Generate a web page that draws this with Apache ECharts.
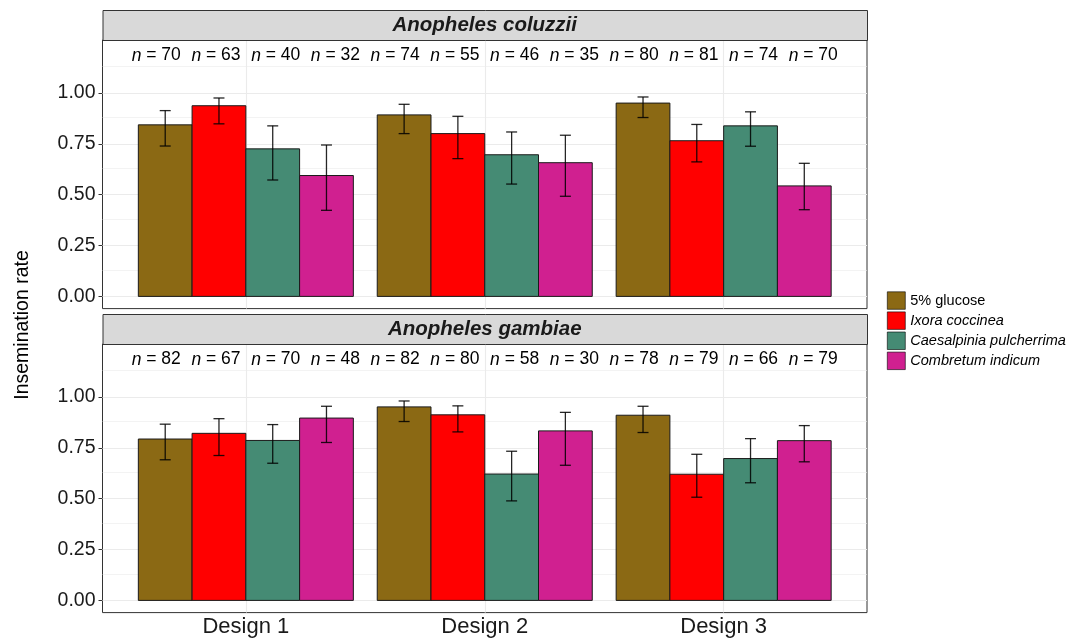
<!DOCTYPE html>
<html><head><meta charset="utf-8">
<script src="https://cdn.jsdelivr.net/npm/echarts@6/dist/echarts.min.js"></script>
<style>html,body{margin:0;padding:0;background:#fff}#c{width:1072px;height:638px}</style>
</head><body><div id="c"></div>
<script>
// ---- data ----
const designs = ['Design 1', 'Design 2', 'Design 3'];
const treatments = ['5% glucose', 'Ixora coccinea', 'Caesalpinia pulcherrima', 'Combretum indicum'];
const species = ['Anopheles coluzzii', 'Anopheles gambiae'];
const yTicks = [0, 0.25, 0.5, 0.75, 1];
const yMinor = [0.125, 0.375, 0.625, 0.875, 1.125];

// rows: treatments, columns: designs
const coluzziiRate = [[0.843, 0.892, 0.950], [0.937, 0.800, 0.765], [0.725, 0.696, 0.838], [0.594, 0.657, 0.543]];
const coluzziiLow  = [[0.739, 0.800, 0.879], [0.848, 0.677, 0.661], [0.572, 0.552, 0.738], [0.423, 0.492, 0.426]];
const coluzziiHigh = [[0.913, 0.944, 0.980], [0.975, 0.885, 0.845], [0.838, 0.808, 0.907], [0.744, 0.792, 0.654]];
const coluzziiN    = [[70, 74, 80], [63, 55, 81], [40, 46, 74], [32, 35, 70]];

const gambiaeRate = [[0.793, 0.951, 0.910], [0.821, 0.912, 0.620], [0.786, 0.621, 0.697], [0.896, 0.833, 0.785]];
const gambiaeLow  = [[0.691, 0.879, 0.825], [0.712, 0.828, 0.507], [0.674, 0.489, 0.578], [0.776, 0.664, 0.681]];
const gambiaeHigh = [[0.866, 0.980, 0.954], [0.893, 0.956, 0.718], [0.864, 0.733, 0.795], [0.954, 0.924, 0.859]];
const gambiaeN    = [[82, 82, 78], [67, 80, 79], [70, 58, 66], [48, 30, 79]];

// ---- style ----
const colors = ['#8B6914', '#FF0000', '#458B74', '#D02090'];
const FONT = '"Liberation Sans", Arial, sans-serif';
const PANEL_LEFT = 102.5, PANEL_W = 764.5, PANEL_H = 268.6;
const PANEL_TOPS = [40, 344];
const STRIP_H = 30;
const BAR_W = 0.225, LABEL_STEP = 0.25, CAP_HALF = 0.023, N_LABEL_Y = 1.183;

const panelData = [
  {rate: coluzziiRate, low: coluzziiLow, high: coluzziiHigh, n: coluzziiN},
  {rate: gambiaeRate, low: gambiaeLow, high: gambiaeHigh, n: gambiaeN}
];

const grids = PANEL_TOPS.map(t => ({
  left: PANEL_LEFT, top: t, width: PANEL_W, height: PANEL_H,
  outerBoundsMode: 'none', containLabel: false,
  show: true, borderColor: '#333333', borderWidth: 1, backgroundColor: '#ffffff'
}));

const xAxes = [0, 1].map(g => ({
  type: 'value', gridIndex: g, min: 0.4, max: 3.6,
  axisLine: {show: false}, splitLine: {show: false},
  axisTick: {show: g === 1, length: 4, lineStyle: {color: '#333333'}, customValues: [1, 2, 3]},
  axisLabel: {show: g === 1, customValues: [1, 2, 3], formatter: v => designs[Math.round(v) - 1],
    fontSize: 22, color: '#1a1a1a', margin: 3, fontFamily: FONT}
}));

const yAxes = [0, 1].map(g => ({
  type: 'value', gridIndex: g, min: -0.06, max: 1.26,
  axisLine: {show: false}, splitLine: {show: false},
  axisTick: {show: true, length: 4, lineStyle: {color: '#333333'}, customValues: yTicks},
  axisLabel: {customValues: yTicks, formatter: v => v.toFixed(2), fontSize: 19.5, color: '#1a1a1a', margin: 7, fontFamily: FONT}
}));

const series = [];
[0, 1].forEach(g => {
  // grid lines
  series.push({
    type: 'line', xAxisIndex: g, yAxisIndex: g, data: [], silent: true, z: 1,
    markLine: {
      silent: true, z: 1, symbol: ['none', 'none'], label: {show: false}, animation: false,
      lineStyle: {color: '#EBEBEB', width: 0.6, type: 'solid'},
      data: yMinor.map(v => ({yAxis: v}))
    }
  });
  series.push({
    type: 'line', xAxisIndex: g, yAxisIndex: g, data: [], silent: true, z: 1,
    markLine: {
      silent: true, z: 1, symbol: ['none', 'none'], label: {show: false}, animation: false,
      lineStyle: {color: '#EBEBEB', width: 1.1, type: 'solid'},
      data: yTicks.map(v => ({yAxis: v})).concat(designs.map((d, i) => ({xAxis: i + 1})))
    }
  });
  const P = panelData[g];
  treatments.forEach((tName, t) => {
    const data = designs.map((d, i) => [i + 1, P.rate[t][i], P.low[t][i], P.high[t][i]]);
    series.push({
      type: 'custom', name: tName, xAxisIndex: g, yAxisIndex: g, z: 10,
      itemStyle: {color: colors[t], borderColor: '#000', borderWidth: 0.6},
      data: data,
      renderItem: (params, api) => {
        const x = api.value(0), y = api.value(1), lo = api.value(2), hi = api.value(3);
        const c = x + (t - 1.5) * BAR_W;
        const tl = api.coord([c - BAR_W / 2, y]);
        const br = api.coord([c + BAR_W / 2, 0]);
        const pHi = api.coord([c, hi]), pLo = api.coord([c, lo]);
        const capL = api.coord([c - CAP_HALF, hi])[0], capR = api.coord([c + CAP_HALF, hi])[0];
        const es = {stroke: 'rgba(0,0,0,0.85)', lineWidth: 1.3};
        return {
          type: 'group', children: [
            {type: 'rect', shape: {x: tl[0], y: tl[1], width: br[0] - tl[0], height: br[1] - tl[1]},
             style: {fill: colors[t], stroke: '#1a1a1a', lineWidth: 1}},
            {type: 'line', shape: {x1: pHi[0], y1: pHi[1], x2: pLo[0], y2: pLo[1]}, style: es},
            {type: 'line', shape: {x1: capL, y1: pHi[1], x2: capR, y2: pHi[1]}, style: es},
            {type: 'line', shape: {x1: capL, y1: pLo[1], x2: capR, y2: pLo[1]}, style: es}
          ]
        };
      }
    });
  });
  // n labels
  const labelData = [];
  treatments.forEach((tName, t) => designs.forEach((d, i) => labelData.push([i + 1, P.n[t][i], t])));
  series.push({
    type: 'custom', xAxisIndex: g, yAxisIndex: g, z: 11, silent: true,
    data: labelData,
    renderItem: (params, api) => {
      const x = api.value(0), n = api.value(1), t = api.value(2);
      const p = api.coord([x + (t - 1.5) * LABEL_STEP, N_LABEL_Y]);
      return {
        type: 'text', x: p[0], y: p[1],
        style: {
          text: '{i|n} = ' + n, fontSize: 17.5, fontFamily: FONT, fill: '#000',
          align: 'center', verticalAlign: 'middle',
          rich: {i: {fontStyle: 'italic', fontSize: 17.5, fontFamily: FONT, fill: '#000'}}
        }
      };
    }
  });
});

const graphics = [];
PANEL_TOPS.forEach((t, g) => {
  graphics.push({
    type: 'rect', left: PANEL_LEFT, top: t - STRIP_H, z: 20,
    shape: {width: PANEL_W, height: STRIP_H},
    style: {fill: '#D9D9D9', stroke: '#333333', lineWidth: 1}
  });
  graphics.push({
    type: 'text', x: PANEL_LEFT + PANEL_W / 2, y: t - STRIP_H / 2 + 0.5, z: 21,
    style: {text: species[g], fontSize: 20.5, fontWeight: 'bold', fontStyle: 'italic', fontFamily: FONT,
      fill: '#1a1a1a', align: 'center', verticalAlign: 'middle'}
  });
});
graphics.push({
  type: 'text', x: 23, y: 325, rotation: Math.PI / 2, z: 21,
  style: {text: 'Insemination rate', fontSize: 19.5, fontFamily: FONT, fill: '#000', align: 'center', verticalAlign: 'middle'}
});

const chart = echarts.init(document.getElementById('c'), null, {renderer: 'canvas'});
chart.setOption({
  animation: false,
  backgroundColor: '#ffffff',
  textStyle: {fontFamily: FONT},
  grid: grids,
  xAxis: xAxes,
  yAxis: yAxes,
  legend: {
    data: treatments, orient: 'vertical', left: 882, top: 286.5,
    itemWidth: 18, itemHeight: 17.5, itemGap: 2, icon: 'rect', selectedMode: false,
    itemStyle: {borderColor: '#000', borderWidth: 0.6},
    textStyle: {fontSize: 14.5, color: '#000', fontFamily: FONT,
      rich: {it: {fontStyle: 'italic', fontSize: 14.5, color: '#000', fontFamily: FONT}}},
    formatter: name => name === '5% glucose' ? name : '{it|' + name + '}'
  },
  graphic: graphics,
  series: series
});
</script></body></html>
